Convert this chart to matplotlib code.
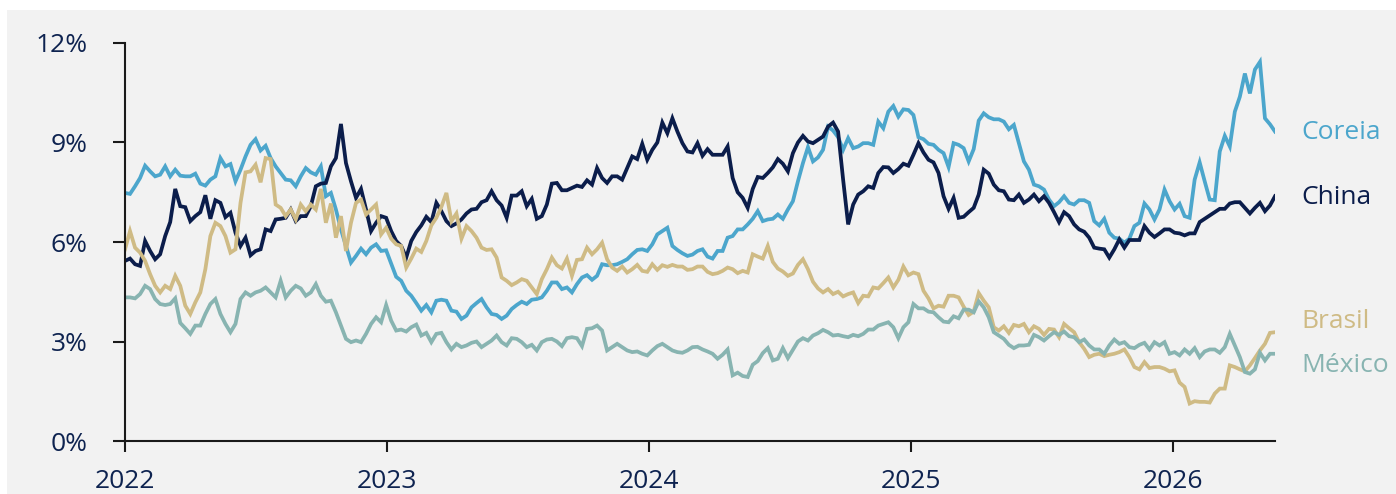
import matplotlib
matplotlib.use("Agg")
import matplotlib.pyplot as plt
import matplotlib.dates as mdates
from matplotlib.patches import Rectangle
import pandas as pd

# weekly series, %
start = "2022-01-01"

coreia = [7.48, 7.45, 7.68, 7.93, 8.30, 8.13, 7.98, 8.03, 8.28, 7.98, 8.18, 8.00, 7.98, 7.98, 8.06, 7.76, 7.70, 7.88, 7.98, 8.53,
          8.28, 8.35, 7.83, 8.18, 8.58, 8.93, 9.10, 8.76, 8.90, 8.53, 8.28, 8.08, 7.88, 7.86, 7.68, 7.98, 8.23, 8.10, 8.03, 8.28,
          7.38, 7.48, 6.98, 6.38, 5.88, 5.38, 5.58, 5.80, 5.63, 5.83, 5.93,
          5.73, 5.75, 5.35, 4.95, 4.83, 4.53, 4.38, 4.16, 3.93, 4.10, 3.88, 4.23, 4.26, 4.23, 3.93, 3.90, 3.68, 3.78, 4.03,
          4.16, 4.28, 4.03, 3.83, 3.80, 3.68, 3.78, 3.98, 4.10, 4.20, 4.13, 4.26, 4.28, 4.33, 4.53, 4.78, 4.78, 4.58, 4.63,
          4.48, 4.73, 4.93, 5.00, 4.86, 4.98, 5.33, 5.30, 5.30, 5.33, 5.40, 5.48, 5.63, 5.76, 5.78, 5.73, 5.93, 6.23,
          6.33, 6.43, 5.88, 5.76, 5.66, 5.58, 5.62, 5.73, 5.78, 5.56, 5.50, 5.73, 5.73, 6.13, 6.18, 6.38, 6.38, 6.53, 6.70,
          6.93, 6.63, 6.68, 6.70, 6.83, 6.70, 6.98, 7.23, 7.83, 8.38, 8.86, 8.43, 8.55, 8.78, 9.48, 9.36, 9.16, 8.78, 9.13,
          8.83, 8.88, 8.98, 8.98, 8.93, 9.63, 9.43, 9.93, 10.1, 9.78, 10.0, 9.98, 9.83, 9.16, 9.10, 8.96, 8.93, 8.78,
          8.68, 8.26, 8.98, 8.93, 8.83, 8.43, 8.80, 9.66, 9.88, 9.76, 9.70, 9.70, 9.63, 9.40, 9.53, 8.98, 8.43, 8.18, 7.73,
          7.68, 7.58, 7.28, 7.08, 7.20, 7.38, 7.18, 7.13, 7.26, 7.26, 7.18, 6.63, 6.50, 6.70, 6.28, 6.13, 6.10, 5.98, 6.10,
          6.48, 6.58, 7.16, 6.98, 6.68, 6.98, 7.58, 7.23, 6.98, 7.15, 6.78, 6.73, 7.88, 8.40, 7.83, 7.28, 7.26, 8.73, 9.20,
          8.88, 9.93, 10.38, 11.08, 10.48, 11.20, 11.43, 9.73, 9.55, 9.33]

china = [5.43, 5.50, 5.33, 5.28, 6.03, 5.73, 5.48, 5.63, 6.18, 6.60, 7.60, 7.08, 7.05, 6.63, 6.78, 6.90, 7.41, 6.70, 7.26, 7.18,
         6.75, 6.88, 6.28, 5.88, 6.13, 5.60, 5.73, 5.78, 6.38, 6.33, 6.68, 6.70, 6.73, 6.98, 6.63, 6.78, 6.78, 7.08, 7.68, 7.76,
         7.78, 8.28, 8.53, 9.56, 8.38, 7.83, 7.33, 7.60, 6.98, 6.33, 6.58,
         6.78, 6.73, 6.33, 6.03, 5.88, 5.53, 6.03, 6.30, 6.50, 6.76, 6.60, 7.18, 6.93, 6.63, 6.48, 6.56, 6.68, 6.86, 6.98,
         7.00, 7.20, 7.26, 7.53, 7.26, 7.10, 6.73, 7.40, 7.40, 7.53, 7.08, 7.30, 6.70, 6.78, 7.13, 7.76, 7.78, 7.56, 7.56,
         7.63, 7.70, 7.66, 7.86, 7.73, 8.23, 7.93, 7.78, 7.98, 7.98, 7.88, 8.23, 8.58, 8.50, 8.96, 8.48, 8.78, 9.00,
         9.60, 9.28, 9.73, 9.33, 8.98, 8.73, 8.70, 8.98, 8.60, 8.80, 8.63, 8.63, 8.63, 8.88, 7.93, 7.50, 7.33, 7.03, 7.60,
         7.96, 7.93, 8.08, 8.25, 8.50, 8.36, 8.13, 8.68, 9.00, 9.20, 9.03, 8.98, 9.08, 9.18, 9.48, 9.60, 9.33, 7.88, 6.53,
         7.13, 7.43, 7.53, 7.68, 7.63, 8.08, 8.26, 8.25, 8.08, 8.20, 8.36, 8.30, 8.63, 8.98, 8.70, 8.48, 8.40, 8.08,
         7.38, 7.00, 7.33, 6.73, 6.76, 6.90, 7.03, 7.43, 8.18, 8.06, 7.73, 7.56, 7.53, 7.28, 7.26, 7.43, 7.18, 7.28, 7.43,
         7.23, 7.38, 7.18, 6.90, 6.60, 6.90, 6.78, 6.53, 6.38, 6.31, 6.13, 5.83, 5.80, 5.78, 5.53, 5.78, 6.08, 5.83, 6.06,
         6.06, 6.06, 6.48, 6.28, 6.15, 6.26, 6.38, 6.38, 6.28, 6.26, 6.20, 6.26, 6.26, 6.60, 6.70, 6.80, 6.90, 7.00, 7.00,
         7.16, 7.20, 7.20, 7.03, 6.86, 7.03, 7.18, 6.93, 7.10, 7.38]

brasil = [5.78, 6.33, 5.83, 5.68, 5.43, 5.03, 4.68, 4.48, 4.68, 4.58, 4.98, 4.68, 4.08, 3.83, 4.18, 4.48, 5.18, 6.18, 6.58, 6.48,
          6.18, 5.68, 5.78, 7.18, 8.10, 8.13, 8.33, 7.80, 8.53, 8.50, 7.13, 7.03, 6.78, 6.98, 6.68, 7.13, 6.93, 7.13, 6.98, 7.60,
          6.58, 7.16, 6.13, 6.78, 5.73, 6.58, 7.18, 7.28, 6.83, 6.98, 7.13,
          6.23, 6.43, 6.10, 5.93, 5.88, 5.23, 5.50, 5.80, 5.70, 6.03, 6.50, 6.73, 7.06, 7.48, 6.63, 6.86, 6.10, 6.48, 6.33,
          6.13, 5.83, 5.76, 5.78, 5.53, 4.93, 4.83, 4.70, 4.78, 4.88, 4.83, 4.63, 4.43, 4.88, 5.18, 5.53, 5.30, 5.20, 5.50,
          4.98, 5.46, 5.48, 5.83, 5.63, 5.78, 5.98, 5.48, 5.23, 5.13, 5.26, 5.08, 5.18, 5.31, 5.13, 5.10, 5.33, 5.16,
          5.30, 5.25, 5.31, 5.26, 5.26, 5.16, 5.18, 5.26, 5.26, 5.10, 5.03, 5.06, 5.13, 5.23, 5.18, 5.06, 5.13, 5.08, 5.63,
          5.56, 5.50, 5.88, 5.40, 5.20, 5.11, 4.98, 5.05, 5.31, 5.48, 5.18, 4.80, 4.60, 4.48, 4.58, 4.43, 4.50, 4.36, 4.43,
          4.48, 4.16, 4.38, 4.36, 4.63, 4.60, 4.76, 4.93, 4.63, 4.86, 5.26, 5.00, 5.08, 5.03, 4.53, 4.30, 4.00, 4.08,
          4.05, 4.38, 4.38, 4.33, 4.05, 3.80, 3.90, 4.46, 4.23, 4.03, 3.43, 3.33, 3.46, 3.26, 3.50, 3.46, 3.53, 3.28, 3.46,
          3.38, 3.20, 3.38, 3.36, 3.13, 3.53, 3.40, 3.28, 2.98, 2.78, 2.53, 2.60, 2.63, 2.56, 2.60, 2.63, 2.68, 2.76, 2.53,
          2.23, 2.16, 2.38, 2.20, 2.23, 2.23, 2.18, 2.10, 2.13, 1.76, 1.63, 1.13, 1.20, 1.18, 1.18, 1.16, 1.43, 1.58, 1.58,
          2.28, 2.23, 2.16, 2.10, 2.28, 2.50, 2.73, 2.93, 3.26, 3.28]

mexico = [4.33, 4.33, 4.30, 4.43, 4.68, 4.58, 4.28, 4.13, 4.10, 4.13, 4.30, 3.56, 3.40, 3.23, 3.48, 3.48, 3.83, 4.13, 4.28, 3.83,
          3.53, 3.28, 3.53, 4.28, 4.48, 4.38, 4.48, 4.53, 4.63, 4.48, 4.33, 4.83, 4.33, 4.53, 4.68, 4.60, 4.38, 4.48, 4.73, 4.38,
          4.20, 4.23, 3.88, 3.48, 3.08, 2.98, 3.03, 2.98, 3.23, 3.53, 3.73,
          3.58, 4.10, 3.63, 3.33, 3.36, 3.30, 3.43, 3.51, 3.18, 3.26, 2.98, 3.23, 3.26, 2.98, 2.76, 2.93, 2.83, 2.88, 2.96,
          3.00, 2.83, 2.93, 3.03, 3.18, 2.98, 2.88, 3.10, 3.08, 2.98, 2.83, 2.90, 2.73, 2.98, 3.06, 3.08, 3.00, 2.86, 3.10,
          3.13, 3.10, 2.86, 3.38, 3.40, 3.48, 3.33, 2.73, 2.83, 2.93, 2.83, 2.73, 2.68, 2.70, 2.63, 2.58, 2.73, 2.86,
          2.93, 2.83, 2.73, 2.68, 2.66, 2.73, 2.83, 2.84, 2.76, 2.70, 2.63, 2.48, 2.60, 2.76, 1.98, 2.06, 1.96, 1.93, 2.30,
          2.41, 2.65, 2.80, 2.43, 2.48, 2.80, 2.50, 2.75, 3.00, 3.10, 3.03, 3.18, 3.25, 3.35, 3.28, 3.18, 3.20, 3.16, 3.13,
          3.20, 3.16, 3.23, 3.36, 3.36, 3.48, 3.53, 3.58, 3.43, 3.10, 3.43, 3.58, 4.13, 4.00, 4.00, 3.90, 3.88, 3.73,
          3.60, 3.58, 3.76, 3.70, 3.96, 3.96, 3.88, 4.21, 4.03, 3.73, 3.28, 3.18, 3.08, 2.90, 2.80, 2.88, 2.88, 2.90, 3.20,
          3.13, 3.03, 3.16, 3.28, 3.20, 3.30, 3.16, 3.13, 2.98, 3.06, 2.88, 2.76, 2.76, 2.63, 2.88, 3.06, 2.93, 2.98, 2.83,
          2.80, 2.90, 2.96, 2.76, 2.98, 2.88, 2.98, 2.63, 2.68, 2.58, 2.76, 2.63, 2.80, 2.53, 2.70, 2.76, 2.76, 2.66, 2.83,
          3.23, 2.88, 2.53, 2.08, 2.03, 2.16, 2.66, 2.43, 2.63, 2.63]

names = ["Coreia", "China", "Brasil", "México"]
series = [coreia, china, brasil, mexico]
colors = ["#4ca6cc", "#0b1d4b", "#cfbb85", "#88b4b1"]
label_y = [9.3, 7.34, 3.6, 2.27]

navy = "#0e2350"
plt.rcParams["font.family"] = ["Open Sans", "DejaVu Sans"]

fig = plt.figure(figsize=(13.96, 4.94), dpi=100, facecolor="white")
fig.patches.append(Rectangle((7 / 1396, 0), 1, 484 / 494, transform=fig.transFigure,
                             facecolor="#f2f2f2", edgecolor="none", zorder=-10))
ax = fig.add_axes([125 / 1396, 53 / 494, 1150 / 1396, 398 / 494])
ax.set_facecolor("none")

last = None
for name, vals, c, ly in zip(names, series, colors, label_y):
    dates = pd.date_range(start, periods=len(vals), freq="7D")
    ax.plot(dates, vals, color=c, lw=2.7, solid_joinstyle="miter")
    last = dates[-1]
    ax.annotate(name, xy=(1.0, ly), xycoords=("axes fraction", "data"),
                xytext=(26, 0), textcoords="offset pixels", color=c,
                fontsize=19, va="center", ha="left", annotation_clip=False)

ax.set_xlim(pd.Timestamp(start), last)
ax.set_ylim(0, 12)
ax.set_yticks([0, 3, 6, 9, 12])
ax.set_yticklabels(["0%", "3%", "6%", "9%", "12%"])
ax.xaxis.set_major_locator(mdates.YearLocator())
ax.xaxis.set_major_formatter(mdates.DateFormatter("%Y"))

for s in ["top", "right"]:
    ax.spines[s].set_visible(False)
for s in ["left", "bottom"]:
    ax.spines[s].set_color("#1a1a1a")
    ax.spines[s].set_linewidth(1.5)
ax.tick_params(axis="y", length=9, width=1.5, color="#1a1a1a", labelsize=19, labelcolor=navy, pad=18)
ax.tick_params(axis="x", length=8, width=1.5, color="#1a1a1a", labelsize=19, labelcolor=navy, pad=12)

fig.savefig("out.png", dpi=100, facecolor=fig.get_facecolor())
